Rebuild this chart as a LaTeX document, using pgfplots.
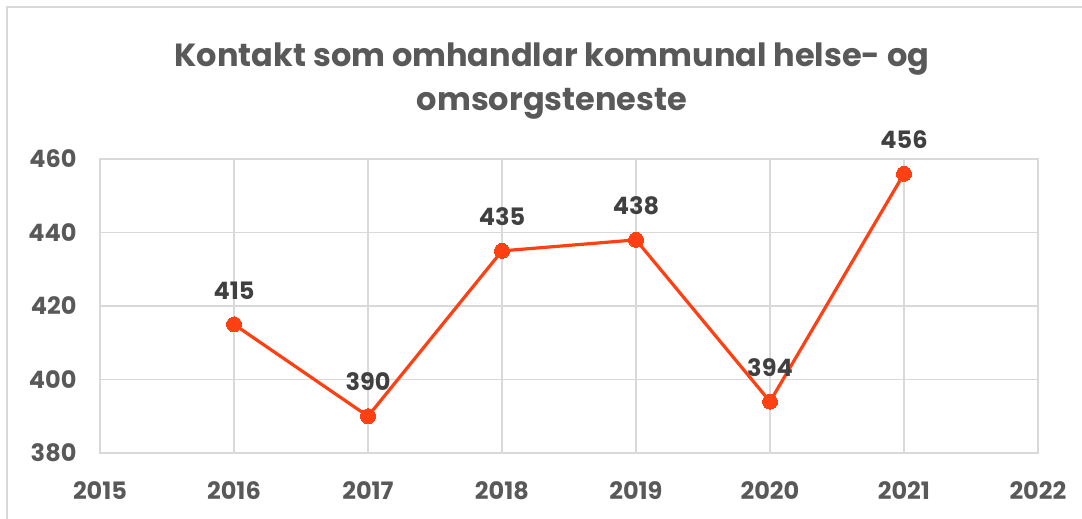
\documentclass[border=0pt]{standalone}
\usepackage{fontspec}
\setmainfont{Poppins}
\usepackage{pgfplots}
\pgfplotsset{compat=1.18}
\definecolor{gridgray}{HTML}{D9D9D9}
\definecolor{txtgray}{HTML}{595959}
\definecolor{lblgray}{HTML}{404040}
\definecolor{linered}{HTML}{FF4013}
\begin{document}
\begin{tikzpicture}[x=1pt,y=1pt]
\path[use as bounding box] (0,0) rectangle (1082,-519);
\begin{scope}
\clip (0,0) rectangle (1082,-519);
\draw[gridgray, line width=2pt] (7,-7) rectangle (1100,-540);
\end{scope}
\node[txtgray, font=\fontsize{32}{44}\selectfont\bfseries, align=center, anchor=center] at (552,-81) {Kontakt som omhandlar kommunal helse- og\\omsorgsteneste};
\begin{axis}[
  at={(100pt,-453pt)}, anchor=south west,
  scale only axis, width=938pt, height=294pt,
  xmin=2015, xmax=2022, ymin=380, ymax=460,
  xtick={2015,...,2022}, ytick={380,400,...,460},
  xticklabel style={/pgf/number format/1000 sep={}},
  /pgf/number format/assume math mode=true,
  tick label style={font=\fontsize{24}{26}\selectfont\bfseries, text=txtgray},
  xticklabel style={yshift=-25pt},
  yticklabel style={xshift=-20pt},
  major tick length=0pt,
  grid=major,
  major grid style={gridgray, line width=1.5pt},
  axis line style={gridgray, line width=1.5pt},
  nodes near coords,
  every node near coord/.append style={font=\fontsize{24}{26}\selectfont\bfseries, text=lblgray, anchor=south, yshift=22pt, /pgf/number format/assume math mode=true},
  clip=false,
]
\addplot[linered, line width=3.2pt, mark=*, mark size=7.5pt, mark options={fill=linered, draw=linered, line width=0pt}] coordinates {
(2016,415) (2017,390) (2018,435) (2019,438) (2020,394) (2021,456)
};
\end{axis}
\end{tikzpicture}
\end{document}
